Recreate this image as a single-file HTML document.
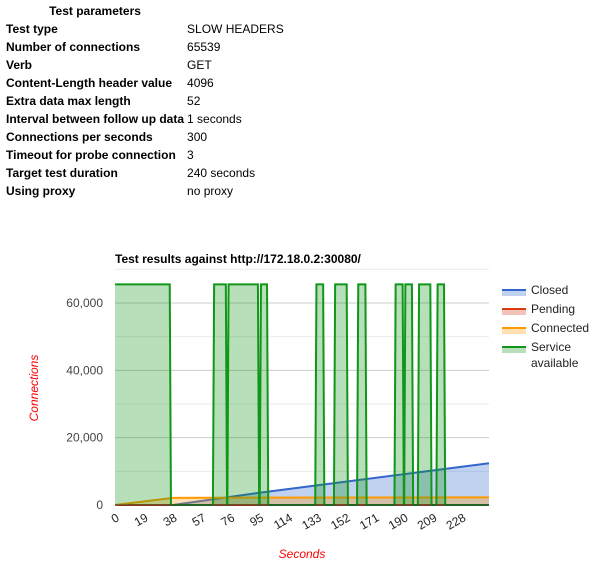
<!DOCTYPE html>
<html><head><meta charset="utf-8">
<style>
body{margin:0;background:#fff;width:608px;height:573px;overflow:hidden;font-family:"Liberation Sans",Arial,sans-serif;}
table{position:absolute;left:4px;top:2px;border-collapse:collapse;font-size:12px;color:#000;}
td,th{padding:0 2px;height:18px;line-height:18px;white-space:nowrap;}
th{font-weight:bold;text-align:center;}
td.k{font-weight:bold;}
td.v{padding-left:1px;}
svg{position:absolute;left:0;top:0;}
</style></head><body>
<table>
<tr><th>Test parameters</th><th></th></tr>
<tr><td class="k">Test type</td><td class="v">SLOW HEADERS</td></tr>
<tr><td class="k">Number of connections</td><td class="v">65539</td></tr>
<tr><td class="k">Verb</td><td class="v">GET</td></tr>
<tr><td class="k">Content-Length header value</td><td class="v">4096</td></tr>
<tr><td class="k">Extra data max length</td><td class="v">52</td></tr>
<tr><td class="k">Interval between follow up data</td><td class="v">1 seconds</td></tr>
<tr><td class="k">Connections per seconds</td><td class="v">300</td></tr>
<tr><td class="k">Timeout for probe connection</td><td class="v">3</td></tr>
<tr><td class="k">Target test duration</td><td class="v">240 seconds</td></tr>
<tr><td class="k">Using proxy</td><td class="v">no proxy</td></tr>
</table>
<svg id="chart" width="608" height="573"></svg>
<script>
const xTicks=[0,19,38,57,76,95,114,133,152,171,190,209,228];
const yTicks=[0,20000,40000,60000];
const yTickLabels=["0","20,000","40,000","60,000"];
const closedTimes=[0,38,95,246];
const closedValues=[0,0,3650,12400];
const connectedTimes=[0,38,95,246];
const connectedValues=[0,2100,2200,2250];
const pendingTimes=[0,246];
const pendingValues=[0,0];
const availStarts=[0,65.2,74.7,96,132.5,144.8,160,184.6,191,200,212.2];
const availEnds=[36,72.9,94,100,136.9,152.4,164.7,189.2,195.3,207.4,216.4];
const availMax=65539;
const xMax=246,yMax=70000;
const L=115,R=489,B=505,T=505-yMax*202/60000;
const sx=v=>L+v*(R-L)/xMax, sy=v=>B-v*(B-T)/yMax;
const svg=document.getElementById('chart');
const NS='http://www.w3.org/2000/svg';
function mk(t,a,txt){const e=document.createElementNS(NS,t);for(const k in a)e.setAttribute(k,a[k]);if(txt!=null)e.textContent=txt;svg.appendChild(e);return e;}
for(let v=10000;v<=yMax;v+=10000){const g=mk('line',{x1:L,x2:R,y1:sy(v),y2:sy(v),stroke:v%20000?'#ebebeb':'#ccc','stroke-width':1});

}
yTicks.forEach((v,i)=>{const t=mk('text',{x:L-12,y:sy(v)+4,'text-anchor':'end','font-size':12,fill:'#444'},yTickLabels[i]);

});
xTicks.forEach(v=>{const t=mk('text',{x:sx(v)+5,y:520,'text-anchor':'end','font-size':12,fill:'#222',transform:`rotate(-30 ${sx(v)+5} 520)`},String(v));

});
function series(ts,vs,col,fill,name){
 let d=ts.map((t,i)=>`${i?'L':'M'}${sx(t)},${sy(vs[i])}`).join('');
 const a=mk('path',{d:d+`L${sx(ts[ts.length-1])},${B}L${sx(ts[0])},${B}Z`,fill:fill,'fill-opacity':0.3,stroke:'none'});
 
 
 const l=mk('path',{d:d,fill:'none',stroke:col,'stroke-width':2});
 
 
}
series(closedTimes,closedValues,'#3366cc','#3366cc','closed');
series(pendingTimes,pendingValues,'#dc3912','#dc3912','pending');
series(connectedTimes,connectedValues,'#ff9900','#ff9900','connected');
let at=[0],av=[availMax];
availStarts.forEach((s,i)=>{const e=availEnds[i];
 if(s>0){at.push(s-0.8,s);av.push(0,availMax);}
 at.push(e,e+0.8);av.push(availMax,0);});
at.push(xMax);av.push(0);
series(at,av,'#109618','#109618','service-available');
const ax=mk('line',{x1:L,x2:R,y1:B,y2:B,stroke:'#333','stroke-width':1});


const tt=mk('text',{x:115,y:263,'font-size':12,'font-weight':'bold',fill:'#000'},'Test results against http://172.18.0.2:30080/');


const xt=mk('text',{x:302,y:558,'text-anchor':'middle','font-size':12,'font-style':'italic',fill:'#f00'},'Seconds');


const yt=mk('text',{x:38,y:388,'text-anchor':'middle','font-size':12,'font-style':'italic',fill:'#f00',transform:'rotate(-90 38 388)'},'Connections');


const leg=[['Closed','#3366cc'],['Pending','#dc3912'],['Connected','#ff9900'],['Service','#109618']];
leg.forEach((e,i)=>{const y=290+i*19;
 const r=mk('rect',{x:502,y:y+1,width:24,height:5,fill:e[1],'fill-opacity':0.3});
 
 
 const l=mk('line',{x1:502,x2:526,y1:y,y2:y,stroke:e[1],'stroke-width':2});
 
 
 const t=mk('text',{x:531,y:y+4,'font-size':12,fill:'#222'},e[0]);
 
 });
const t2=mk('text',{x:531,y:367,'font-size':12,fill:'#222'},'available');


</script>
</body></html>
